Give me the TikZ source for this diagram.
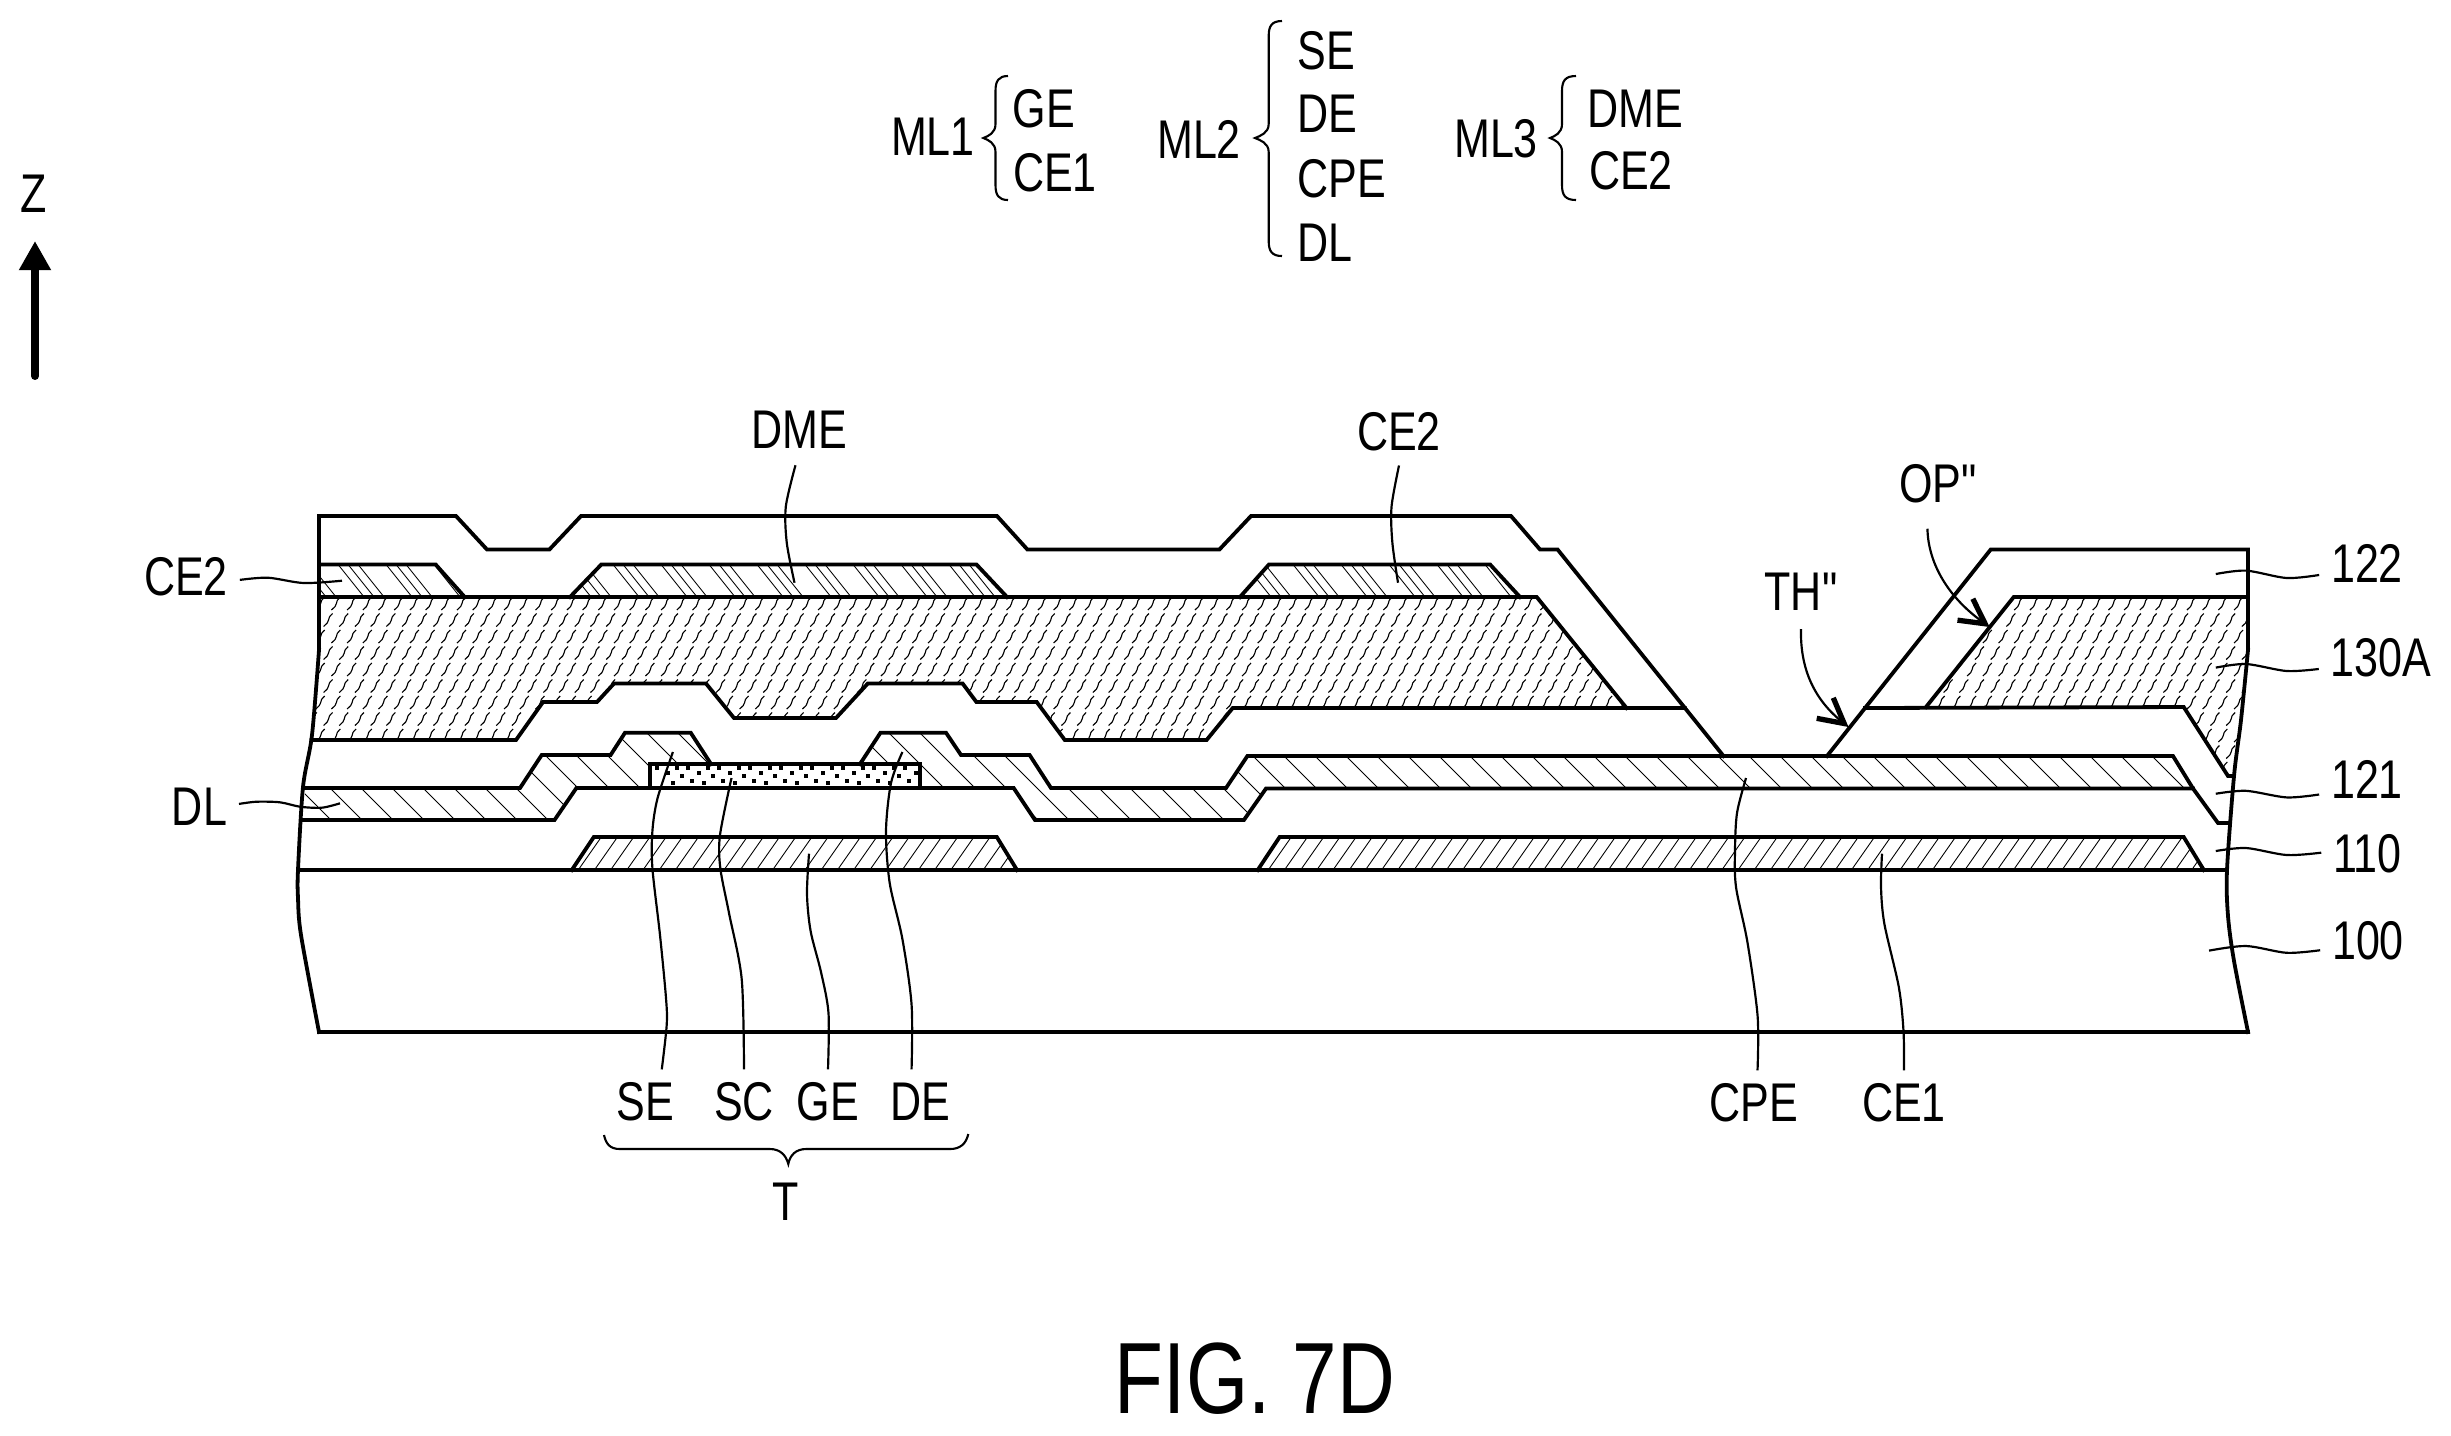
\documentclass[tikz,border=0pt]{standalone}
\usepackage{fontspec}
\newfontfamily\labf[FakeStretch=0.79]{Liberation Sans}
\usetikzlibrary{arrows.meta}
\tikzset{
  ol/.style={line width=1.08pt,line join=miter,line cap=rect},
  leader/.style={line width=0.62pt},
  thinl/.style={line width=0.25pt},
  orgl/.style={line width=0.32pt},
  lab/.style={font=\labf\fontsize{15.5}{18}\selectfont,inner sep=0pt,outer sep=3.4pt,text height=11pt,text depth=0pt,anchor=base},
  bracel/.style={line width=0.6pt},
  barb/.style={-{Straight Barb[length=7pt,width=7.5pt,line width=1.5pt]}}
}
% slanted hatch lines: x0, step, count, dx/dy ratio, ytop, ybot
\newcommand{\hatchlines}[6]{%
  \foreach \k in {0,...,#3}{\draw[thinl] ({#1+\k*#2},#5) -- ({#1+\k*#2+#4*(#6-#5)},#6);}}
% triple-grouped hatch used by the upper metal
\newcommand{\tripleh}[5]{%
  \foreach \k in {0,...,#2}{\foreach \j in {0,10,20}{\draw[thinl] ({#1+\k*48+\j},#4) -- ({#1+\k*48+\j+0.8*(#5-#4)},#5);}}}
% wavy organic-layer pattern: x0, columns, y0, rows
\newcommand{\organic}[4]{%
  \foreach \r in {0,...,#4}{\foreach \c in {0,...,#2}{%
    \pgfmathsetmacro{\xx}{#1+\c*15.7+mod(\r,2)*7.85}%
    \pgfmathsetmacro{\yy}{#3+\r*16.5}%
    \draw[orgl] (\xx,\yy) .. controls ({\xx+3},{\yy-3}) and ({\xx+5},{\yy-4}) .. ({\xx+5},{\yy-6.5}) .. controls ({\xx+5},{\yy-9}) and ({\xx+6},{\yy-10}) .. ({\xx+9},{\yy-13});}}}
% vertical left brace: tipx, spinex, endx, top, tip, bottom
\newcommand{\vbrace}[6]{%
  \draw[bracel] (#3,#4) .. controls ({#2+3},#4) and (#2,{#4+5}) .. (#2,{#4+15}) -- (#2,{#5-14})
    .. controls (#2,{#5-5}) and ({#1+5},{#5-2}) .. (#1,#5)
    .. controls ({#1+5},{#5+2}) and (#2,{#5+5}) .. (#2,{#5+14}) -- (#2,{#6-15})
    .. controls (#2,{#6-5}) and ({#2+3},#6) .. (#3,#6);}
\begin{document}
\begin{tikzpicture}[x=0.01cm,y=-0.01cm]
\fill[white] (0,0) rectangle (2451,1435);
\useasboundingbox (0,0) rectangle (2451,1435);

% ---------- hatching ----------
\begin{scope}
  \clip (319,564.4) -- (435.6,564.4) -- (464.7,597) -- (319,597) -- cycle;
  \tripleh{290}{4}{4}{564.4}{597}
\end{scope}
\begin{scope}
  \clip (570,597) -- (601.4,564.4) -- (976.4,564.4) -- (1007,597) -- cycle;
  \tripleh{565}{10}{0}{564.4}{597}
\end{scope}
\begin{scope}
  \clip (1240,597) -- (1269,564.4) -- (1490,564.4) -- (1520,597) -- cycle;
  \tripleh{1245}{6}{0}{564.4}{597}
\end{scope}
\begin{scope}
  \clip (305.5,788) -- (520,788) -- (541.7,755) -- (610.6,755) -- (625,732.7) -- (690.7,732.7) -- (711,764) -- (650,764) -- (650,788) -- (576.4,788) -- (554.5,820) -- (303,820) -- cycle;
  \hatchlines{200}{31}{20}{1}{720}{830}
\end{scope}
\begin{scope}
  \clip (860,764) -- (880.5,732.7) -- (946,732.7) -- (961,755) -- (1029.6,755) -- (1051,788) -- (1226,788) -- (1247.4,756) -- (2173,756) -- (2193,788.5) -- (1266,788.5) -- (1243.9,820) -- (1034.7,820) -- (1013.7,788) -- (920,788) -- (920,764) -- cycle;
  \hatchlines{783}{31}{47}{1}{720}{830}
\end{scope}
\begin{scope}
  \clip (571.8,870) -- (593.8,837) -- (996.8,837) -- (1017,870) -- cycle;
  \hatchlines{590}{16.2}{30}{-0.7}{830}{875}
\end{scope}
\begin{scope}
  \clip (1257.7,870) -- (1279.6,837) -- (2183.7,837) -- (2203.8,870) -- cycle;
  \hatchlines{1280}{16.2}{58}{-0.7}{830}{875}
\end{scope}

% ---------- organic pattern ----------
\begin{scope}
  \clip (319,597) -- (1536.7,597) -- (1626.5,708) -- (1232.7,708) -- (1206.6,740) -- (1064.8,740) -- (1036.7,702) -- (976.4,702) -- (962.6,683.5) -- (867.8,683.5) -- (836,718) -- (734,718) -- (706,683.5) -- (614,683.5) -- (597,702) -- (543,702) -- (516,740) -- (311.6,740) -- (319,650) -- cycle;
  \organic{300}{85}{610}{8}
\end{scope}
\begin{scope}
  \clip (2013.7,597) -- (2248,597) -- (2248,657) -- (2241,720) -- (2234,776) -- (2228,776) -- (2183.7,707) -- (1926,707) -- cycle;
  \organic{1920}{21}{610}{11}
\end{scope}

% ---------- semiconductor dots ----------
\begin{scope}
  \clip (650,764) rectangle (920,788);
  \foreach \k in {0,...,8}{
    \foreach \dx/\dy in {657.3/768.3,676.7/768.3,668.3/772.7,681.7/776,673.3/783,692.3/781}{
      \fill[black] ({\dx+\k*31-2},{\dy-2}) rectangle ({\dx+\k*31+2},{\dy+2});}}
\end{scope}

% ---------- outlines ----------
\draw[ol] (319,516) -- (319,650);
\draw[ol] plot[smooth] coordinates {(319,650) (312,735) (303,787) (298,870) (298,898) (301,935) (319,1032)};
\draw[ol] (2248,549.5) -- (2248,650);
\draw[ol] plot[smooth] coordinates {(2248,650) (2241,720) (2234,776) (2227,870) (2228,916) (2234,961) (2248,1032)};
\draw[ol] (319,1032) -- (2248,1032);
\draw[ol] (298,870) -- (2227,870);
\draw[ol] (319,516) -- (456,516) -- (487,549.5) -- (549.4,549.5) -- (581,516) -- (997,516) -- (1027.4,549.5) -- (1219.4,549.5) -- (1251,516) -- (1511,516) -- (1540,549.5) -- (1557.6,549.5) -- (1723.5,756);
\draw[ol] (1827,756) -- (1990.7,549.5) -- (2248,549.5);
% upper metal
\draw[ol] (319,564.4) -- (435.6,564.4) -- (464.7,597);
\draw[ol] (570,597) -- (601.4,564.4) -- (976.4,564.4) -- (1007,597);
\draw[ol] (1240,597) -- (1269,564.4) -- (1490,564.4) -- (1520,597);
% organic layer
\draw[ol] (319,597) -- (1536.7,597) -- (1626.5,708);
\draw[ol] (1684.7,708) -- (1232.7,708) -- (1206.6,740) -- (1064.8,740) -- (1036.7,702) -- (976.4,702) -- (962.6,683.5) -- (867.8,683.5) -- (836,718) -- (734,718) -- (706,683.5) -- (614,683.5) -- (597,702) -- (543,702) -- (516,740) -- (311.6,740);
\draw[ol] (2248,597) -- (2013.7,597) -- (1926,707);
\draw[ol] (1865,708) -- (2183.7,707) -- (2228,776) -- (2234,776);
% middle metal
\draw[ol] (305.5,788) -- (520,788) -- (541.7,755) -- (610.6,755) -- (625,732.7) -- (690.7,732.7) -- (711,764);
\draw[ol] (860,764) -- (880.5,732.7) -- (946,732.7) -- (961,755) -- (1029.6,755) -- (1051,788) -- (1226,788) -- (1247.4,756) -- (2173,756) -- (2193,788.5) -- (2218,823) -- (2229,823);
\draw[ol] (303,820) -- (554.5,820) -- (576.4,788) -- (1013.7,788) -- (1035,820) -- (1243.9,820) -- (1266,788.5) -- (2193,788.5);
\draw[ol] (650,788) -- (650,764) -- (920,764) -- (920,788);
% lower metal
\draw[ol] (571.8,870) -- (593.8,837) -- (996.8,837) -- (1017,870);
\draw[ol] (1257.7,870) -- (1279.6,837) -- (2183.7,837) -- (2203.8,870);

% ---------- labels ----------
\node[lab] (tDME) at (799,448) {DME};
\node[lab] (tCEr) at (1399,450) {CE2};
\node[lab] (tCEl) at (186,595) {CE2};
\node[lab] (tDL) at (199.5,825) {DL};
\node[lab] (tOP) at (1938,502.7) {OP"};
\node[lab] (tTH) at (1801,610) {TH"};
\node[lab] (t122) at (2367,582) {122};
\node[lab] (t130) at (2381,676) {130A};
\node[lab] (t121) at (2367,798) {121};
\node[lab] (t110) at (2367.5,872) {110};
\node[lab] (t100) at (2368,959) {100};
\node[lab] (tSE) at (645.6,1120) {SE};
\node[lab] (tSC) at (744,1120) {SC};
\node[lab] (tGE) at (828,1120) {GE};
\node[lab] (tDE) at (920,1120) {DE};
\node[lab] (tCPE) at (1754,1121) {CPE};
\node[lab] (tCE1) at (1904,1121) {CE1};
\node[lab] (tT) at (785.5,1220) {T};
\node[lab] (tZ) at (33.7,212) {Z};
\node[lab] (m1) at (933,155) {ML1};
\node[lab] (m1a) at (1044,127) {GE};
\node[lab] (m1b) at (1055,191) {CE1};
\node[lab] (m2) at (1199,158) {ML2};
\node[lab] (m2a) at (1326,69) {SE};
\node[lab] (m2b) at (1327.5,132) {DE};
\node[lab] (m2c) at (1342,197) {CPE};
\node[lab] (m2d) at (1325,261) {DL};
\node[lab] (m3) at (1496,157) {ML3};
\node[lab] (m3a) at (1635,127) {DME};
\node[lab] (m3b) at (1631,189) {CE2};
\node[inner sep=0pt,anchor=base,font=\labf\fontsize{28.8}{32}\selectfont] (tFIG) at (1255,1413) {FIG. 7D};

% ---------- braces ----------
\vbrace{983.4}{995.5}{1008}{76}{138}{200}
\vbrace{1255}{1268.7}{1282}{21}{138}{256}
\vbrace{1550}{1562}{1576}{76}{138}{200}
\draw[bracel] (604,1135) .. controls (606,1144) and (610,1149) .. (620,1149) -- (770,1149) .. controls (780,1149) and (786,1155) .. (788.3,1164) .. controls (790,1155) and (796,1149) .. (806,1149) -- (950,1149) .. controls (960,1149) and (966,1144) .. (968.3,1134);

% ---------- leaders ----------
\draw[leader] plot[smooth] coordinates {([xshift=-1pt,yshift=-1.5pt]tDME.south) (785.8,506.7) (786.8,543) (794.5,582.7)};
\draw[leader] plot[smooth] coordinates {([yshift=-1pt]tCEr.south) (1391.5,507) (1392.4,543) (1398,582.7)};
\draw[leader] plot[smooth] coordinates {([yshift=4.3pt]tCEl.base east) (268,577.7) (303.7,583) (342,580.7)};
\draw[leader] plot[smooth] coordinates {([yshift=6pt]tDL.base east) (256.7,801.7) (280,802.3) (300,806.7) (321.7,807.7) (340,803.3)};
\draw[leader] plot[smooth] coordinates {([xshift=4.6pt]tSE.north) (666.7,1025) (666,998) (660,935) (652.4,868) (652.4,831) (657.6,798) (672.9,752)};
\draw[leader] plot[smooth] coordinates {(tSC.north) (741.7,979) (729,913) (720.3,868) (720,835) (731.5,778)};
\draw[leader] plot[smooth] coordinates {(tGE.north) (828.5,1013) (821,972) (810.6,931) (807,894) (809,853.7)};
\draw[leader] plot[smooth] coordinates {([xshift=-2.4pt]tDE.north) (911.6,1005) (902.4,939) (889.7,883) (886,831) (891,783) (902.4,752)};
\draw[leader] plot[smooth] coordinates {([xshift=1pt]tCPE.north) (1757.6,1016) (1747.4,942) (1736,887) (1735,850) (1737,813) (1746,778)};
\draw[leader] plot[smooth] coordinates {(tCE1.north) (1903.5,1031) (1898.8,987) (1884.4,924) (1881,887) (1882,853.7)};
\draw[leader] plot[smooth] coordinates {(2215.8,574) (2246,570.6) (2286.7,578) ([yshift=2pt]t122.base west)};
\draw[leader] plot[smooth] coordinates {(2215.8,667.6) (2246,664) (2286.7,671) ([yshift=2pt]t130.base west)};
\draw[leader] plot[smooth] coordinates {(2215.8,793.7) (2246,790.8) (2286.7,797.4) ([yshift=1pt]t121.base west)};
\draw[leader] plot[smooth] coordinates {(2215.8,851) (2246,848) (2286.7,855) ([yshift=5.5pt]t110.base west)};
\draw[leader] plot[smooth] coordinates {(2209,950.6) (2246,946) (2286.7,952.8) ([yshift=2.5pt]t100.base west)};

\coordinate (pOP) at (1989.7,627);
\coordinate (pTH) at (1848.5,727);
\draw[leader,barb] ([xshift=-3pt,yshift=-4pt]tOP.south) .. controls (1928,560) and (1945,595) .. (pOP);
\draw[leader,barb] ([yshift=-2pt]tTH.south) .. controls (1800,670) and (1815,700) .. (pTH);

% ---------- Z arrow ----------
\coordinate (zb) at (35,376);
\draw[line width=2.25pt,line cap=round,-{Triangle[length=8.3pt,width=8.6pt]}] (zb) -- (35,241);
\end{tikzpicture}
\end{document}
